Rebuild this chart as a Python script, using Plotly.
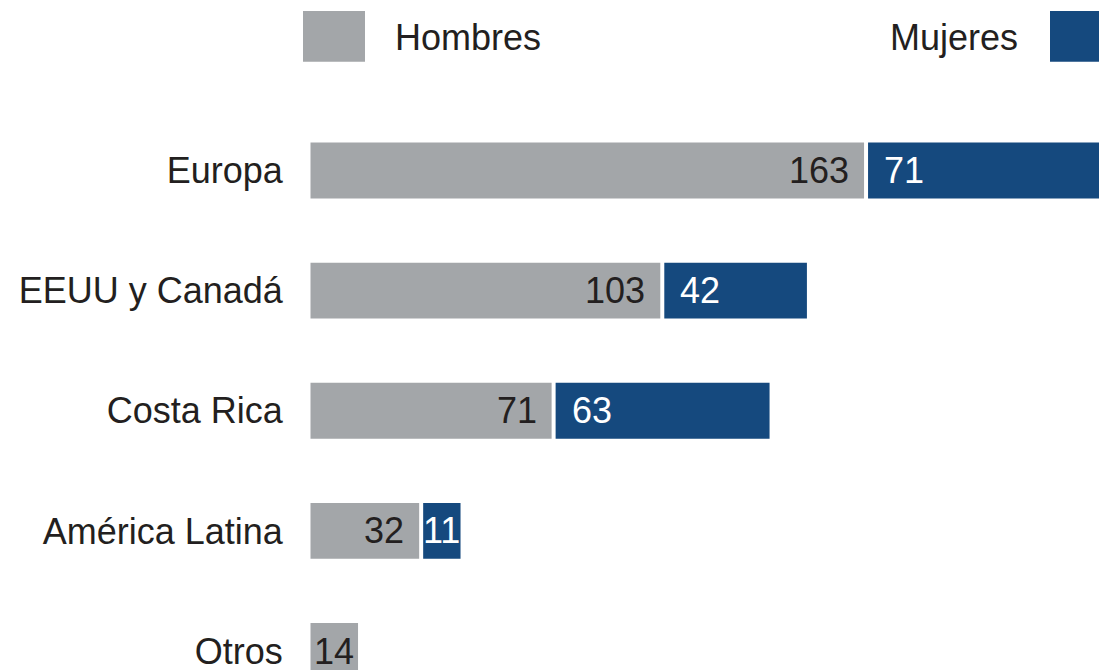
import plotly.graph_objects as go

categories = ["Europa", "EEUU y Canadá", "Costa Rica", "América Latina", "Otros"]
hombres = [163, 103, 71, 32, 14]
mujeres = [71, 42, 63, 11, 0]
legend_labels = ["Hombres", "Mujeres"]

GRAY = "#a3a6a9"
BLUE = "#15497e"
TXT = "#231f20"
FONT = "Liberation Sans, Arial, sans-serif"

W, H = 1099, 672
L, R = 310, 0
scale = 3.396            # pixels per unit
GAP = 4 / scale          # white gap between the two segments (style)

ypos = list(range(len(categories)))
blue_base = [h + GAP for h in hombres]

fig = go.Figure()
fig.add_trace(go.Bar(
    y=ypos, x=hombres, orientation="h", name=legend_labels[0],
    marker=dict(color=GRAY, line=dict(width=0)),
    width=0.465, hoverinfo="x+y",
))
fig.add_trace(go.Bar(
    y=ypos, x=mujeres, base=blue_base, orientation="h", name=legend_labels[1],
    marker=dict(color=BLUE, line=dict(width=0)),
    width=0.465, hoverinfo="x+y",
))

annotations = []
for i, (h, m) in enumerate(zip(hombres, mujeres)):
    if h > 0:
        if h < 20:
            annotations.append(dict(x=h / 2, y=i, text=str(h), showarrow=False,
                                    xanchor="center", yanchor="middle",
                                    font=dict(size=36, color=TXT, family=FONT)))
        else:
            annotations.append(dict(x=h, y=i, text=str(h), showarrow=False,
                                    xanchor="right", yanchor="middle", xshift=-13,
                                    font=dict(size=36, color=TXT, family=FONT)))
    if m > 0:
        b = blue_base[i]
        if m < 20:
            annotations.append(dict(x=b + m / 2, y=i, text=str(m), showarrow=False,
                                    xanchor="center", yanchor="middle",
                                    font=dict(size=36, color="white", family=FONT)))
        else:
            annotations.append(dict(x=b, y=i, text=str(m), showarrow=False,
                                    xanchor="left", yanchor="middle", xshift=14,
                                    font=dict(size=36, color="white", family=FONT)))

pw = W - L - R


def px(xp):
    return (xp - L) / pw


def py(yp):
    return 1 - yp / H


shapes = [
    dict(type="rect", xref="paper", yref="paper", x0=px(303), x1=px(365), y0=py(62), y1=py(11),
         fillcolor=GRAY, line=dict(width=0)),
    dict(type="rect", xref="paper", yref="paper", x0=px(1050), x1=px(1099), y0=py(62), y1=py(11),
         fillcolor=BLUE, line=dict(width=0)),
]
annotations.append(dict(xref="paper", yref="paper", x=px(393), y=py(38), text=legend_labels[0],
                        showarrow=False, xanchor="left", yanchor="middle",
                        font=dict(size=36, color=TXT, family=FONT)))
annotations.append(dict(xref="paper", yref="paper", x=px(1020), y=py(38), text=legend_labels[1],
                        showarrow=False, xanchor="right", yanchor="middle",
                        font=dict(size=36, color=TXT, family=FONT)))

x0 = -0.5 / scale
fig.update_layout(
    width=W, height=H,
    margin=dict(l=L, r=R, t=0, b=0, pad=0),
    barmode="overlay",
    showlegend=False,
    plot_bgcolor="white", paper_bgcolor="white",
    xaxis=dict(range=[x0, x0 + pw / scale], visible=False, fixedrange=True),
    yaxis=dict(range=[4 + (H - 653) / 120.5, -171 / 120.5], tickvals=ypos, ticktext=categories,
               showgrid=False, zeroline=False, showline=False,
               ticks="outside", ticklen=19, tickcolor="rgba(0,0,0,0)",
               ticklabeloverflow="allow",
               tickfont=dict(size=36, color=TXT, family=FONT), fixedrange=True),
    shapes=shapes, annotations=annotations,
)

fig.write_html("out.html", config={"displayModeBar": False},
               post_script="document.body.style.margin='0';document.body.style.overflow='hidden';")
